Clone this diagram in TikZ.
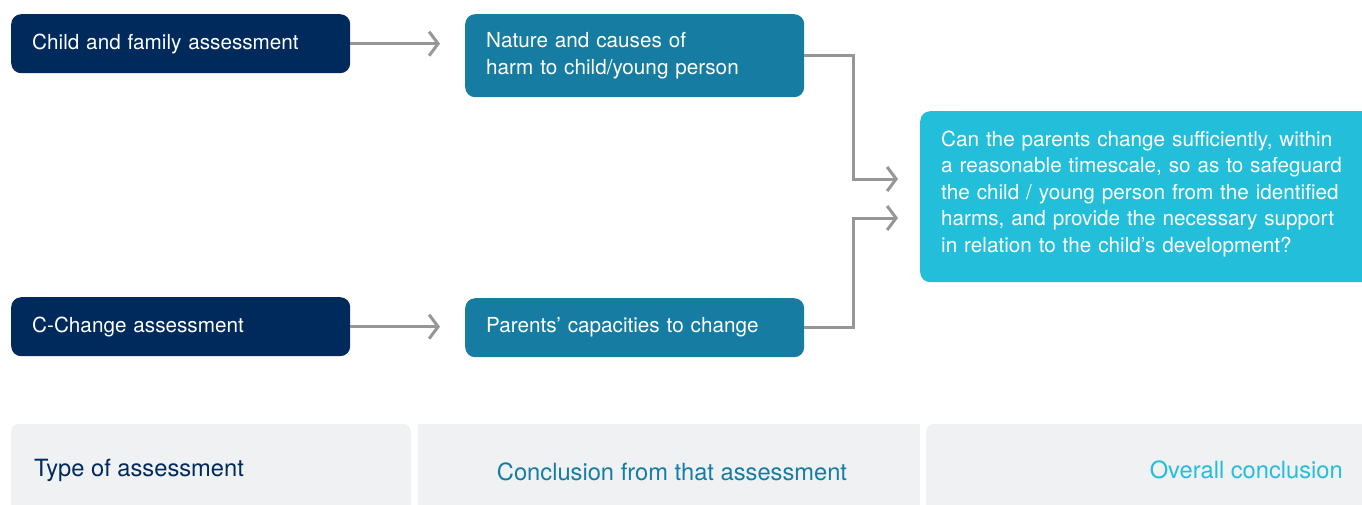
\documentclass[tikz,border=0pt]{standalone}
\usepackage{fontspec}
\setmainfont{TeX Gyre Heros}
\usetikzlibrary{arrows.meta}
\definecolor{navy}{RGB}{1,42,92}
\definecolor{teal}{RGB}{22,124,161}
\definecolor{sky}{RGB}{34,190,218}
\definecolor{arrgray}{RGB}{150,150,152}
\definecolor{panel}{RGB}{240,241,243}
\tikzset{
  box/.style={rounded corners=10pt, inner xsep=21pt, inner ysep=0pt, align=left,
    text=white, font=\fontsize{20.7}{26.5}\selectfont, anchor=north west},
  smallbox/.style={box, text width=297pt, minimum height=59pt},
  arr/.style={draw=arrgray, line width=3pt,
    -{Straight Barb[length=9pt,width=24pt,line width=3pt]}},
  lab/.style={font=\fontsize{23.7}{26}\selectfont, inner sep=0pt}
}
\begin{document}
\begin{tikzpicture}[x=1pt,y=-1pt]
\useasboundingbox (0,0) rectangle (1362,504);
\begin{scope}
\clip (0,0) rectangle (1362,504);
% boxes
\node[smallbox, fill=navy] (cfa) at (11,14) {Child and family assessment};
\node[smallbox, fill=navy] (cca) at (11,297) {C-Change assessment};
\node[smallbox, fill=teal, minimum height=83pt] (nat) at (465,14) {Nature and causes of\\harm to child/young person};
\node[smallbox, fill=teal] (cap) at (465,298) {Parents' capacities to change};
\node[box, fill=sky, text width=430pt, minimum height=171pt] (big) at (920,111)
  {Can the parents change sufficiently, within\\a reasonable timescale, so as to safeguard\\the child / young person from the identified\\harms, and provide the necessary support\\in relation to the child's development?\rule[-10pt]{0pt}{0pt}};
% connectors
\coordinate (j1) at (898,179);
\coordinate (m1) at (853,179);
\coordinate (j2) at (898,218);
\coordinate (m2) at (853,218);
\draw[arr, shorten >=25pt] (cfa.east) -- (cfa.east -| nat.west);
\draw[arr, shorten >=25pt] (cca.east) -- (cca.east -| cap.west);
\draw[arr] (nat.east) -| (m1) -- (j1);
\draw[arr] (cap.east) -| (m2) -- (j2);
% bottom panels
\fill[panel, rounded corners=8pt] (11,540) -- (11,424) -- (411,424) [sharp corners] -- (411,540) -- cycle;
\fill[panel] (418,424) rectangle (920,540);
\fill[panel, rounded corners=8pt] (926,540) -- (926,424) -- (1380,424) -- (1380,540) -- cycle;
\node[lab, text=navy, anchor=west] (t1) at (34,470) {Type of assessment};
\node[lab, text=teal] (t2) at (672,472) {Conclusion from that assessment};
\node[lab, text=sky, anchor=east] (t3) at (1343,470) {Overall conclusion};
\end{scope}
\end{tikzpicture}
\end{document}
